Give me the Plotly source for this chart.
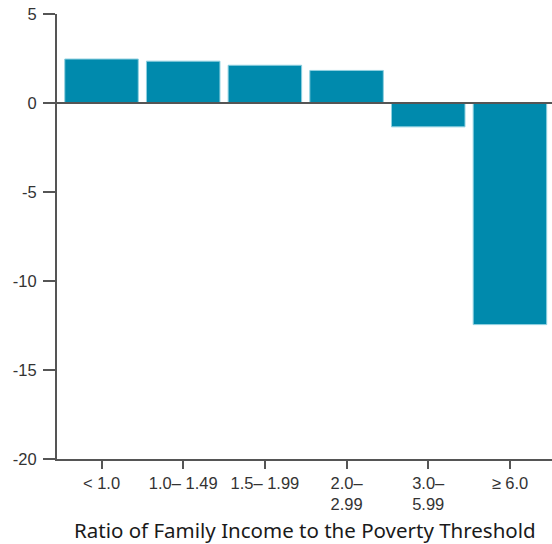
import plotly.graph_objects as go

categories = ["< 1.0", "1.0– 1.49", "1.5– 1.99", "2.0–<br>2.99", "3.0–<br>5.99", "≥ 6.0"]
values = [2.47, 2.35, 2.12, 1.83, -1.34, -12.45]
y_tickvals = [5, 0, -5, -10, -15, -20]
y_ticktext = ["5", "0", "-5", "-10", "-15", "-20"]
x_title = "Ratio of Family Income to the Poverty Threshold"

fig = go.Figure(go.Bar(
    x=list(range(len(categories))),
    y=values,
    marker=dict(color="#008aad", line=dict(color="#8fd0e0", width=1)),
    hoverinfo="y",
))

fig.update_layout(
    width=552, height=544,
    margin=dict(l=57, r=0, t=14, b=85),
    paper_bgcolor="white", plot_bgcolor="white",
    bargap=0.1,
    showlegend=False,
    font=dict(family="Liberation Sans, Arial, sans-serif", size=16, color="#333"),
)
fig.update_xaxes(
    range=[-0.545, 5.515],
    tickvals=list(range(len(categories))),
    ticktext=categories,
    tickfont=dict(size=16.5),
    showgrid=False, zeroline=False, automargin=False,
    showline=True, linecolor="#555", linewidth=2,
    ticks="outside", ticklen=8, tickwidth=2, tickcolor="#555",
)
fig.update_yaxes(
    range=[-20, 5],
    tickvals=y_tickvals,
    ticktext=y_ticktext,
    tickfont=dict(size=16.5),
    ticklabelstandoff=3,
    showgrid=False, zeroline=False, automargin=False,
    showline=True, linecolor="#555", linewidth=2,
    ticks="outside", ticklen=12, tickwidth=2, tickcolor="#555",
)
fig.add_shape(type="line", xref="paper", yref="y", x0=0, x1=1, y0=0, y1=0,
              line=dict(color="#555", width=2), layer="above")
fig.add_annotation(text=x_title, xref="paper", yref="paper", x=0.5, y=-0.16,
                   xanchor="center", yanchor="middle", showarrow=False,
                   font=dict(family="Noto Sans, sans-serif", size=20.5, color="#1a1a1a"))

fig.write_html(
    "out.html",
    config={"displayModeBar": False},
    post_script="document.body.style.margin='0';document.body.style.padding='0';",
)
